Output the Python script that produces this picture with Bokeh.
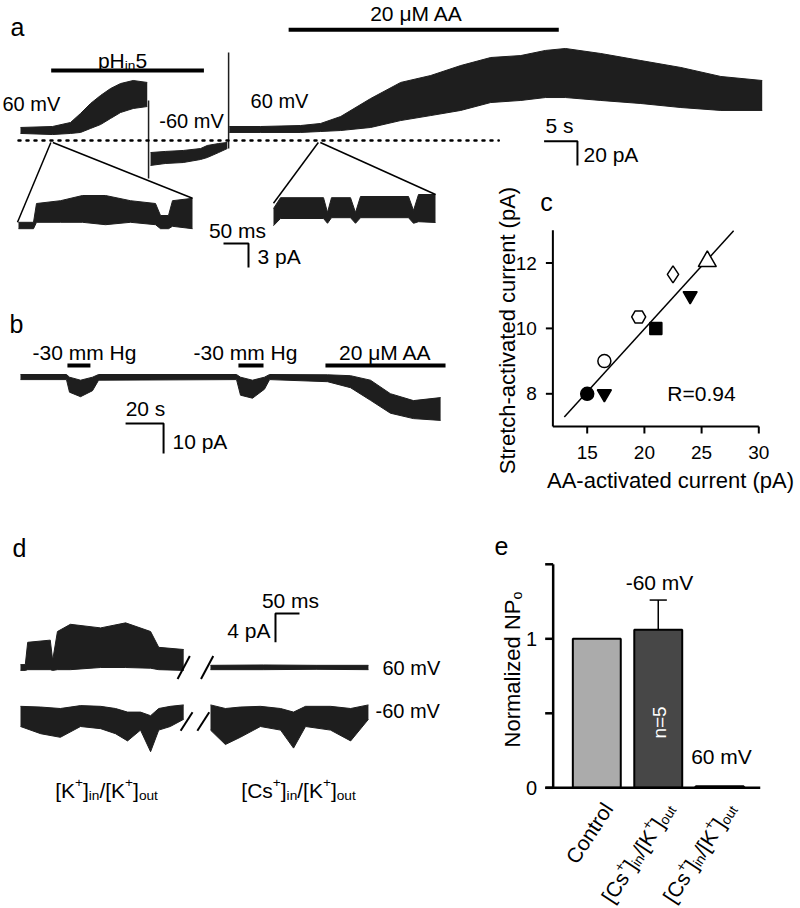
import numpy as np
from bokeh.plotting import figure
from bokeh.models import Range1d, ColumnDataSource
from bokeh.core.properties import value
from bokeh.embed import file_html
from bokeh.resources import INLINE

# ------------------------------------------------------------------ data
# Panel a: main recording, envelope of the noisy trace (time s, current pA)
a_ph_t = [0, 4.8, 7.5, 9.0, 10.5, 12.0, 13.5, 15.0, 16.9, 19.0]
a_ph_lo = [5.8, 4.9, 5.8, 6.6, 9.9, 13.1, 18.1, 23.0, 26.3, 27.9]
a_ph_hi = [10.7, 11.5, 14.8, 22.2, 30.4, 37.0, 42.7, 46.8, 49.3, 47.7]
a_neg_t = [19.5, 21.7, 24.4, 27.0, 28.0, 29.7, 31.0]
a_neg_lo = [-20.5, -18.9, -18.1, -15.6, -14.0, -9.9, -6.6]
a_neg_hi = [-9.9, -9.0, -8.2, -6.6, -4.1, -2.5, -1.6]
a_aa_t = [31.3, 36.0, 42.0, 45.0, 48.0, 52.5, 57.0, 61.5, 66.0, 70.5, 75.0,
          78.7, 81.7, 87.0, 93.0, 99.0, 105.0, 111.2]
a_aa_lo = [6.6, 6.6, 6.6, 7.4, 8.2, 10.7, 16.4, 20.5, 24.7, 31.2, 32.9, 35.3,
           35.3, 32.9, 30.4, 27.1, 24.7, 24.7]
a_aa_hi = [11.5, 11.5, 12.3, 14.0, 19.7, 34.5, 47.7, 53.4, 61.6, 68.2, 69.8,
           74.0, 75.6, 71.5, 65.7, 60.0, 52.6, 49.3]
a_step_t = [19.2, 31.2]
a_step_lo = [-31.2, -6.6]
a_step_hi = [32.9, 72.3]
a_stim_start = [4.6, 40.2]
a_stim_end = [27.5, 80.7]
a_zoom_t = [4.7, 44.8]          # where the two expanded insets come from

# Panel a insets (time ms, current pA)
ins1_t = [0, 30, 36, 84, 128, 174, 224, 274, 284, 300, 308, 348]
ins1_lo = [-0.4, -0.4, 0.4, 0.4, 0.4, 0.1, 0.4, 0.1, -0.4, -0.4, -0.1, -0.4]
ins1_hi = [0.4, 0.4, 2.75, 3.1, 3.75, 3.75, 3.1, 2.75, 1.25, 1.25, 3.1, 3.4]
ins2_t = [0, 14, 100, 108, 116, 154, 164, 174, 270, 280, 290, 324]
ins2_lo = [-0.4, 0.5, 0.5, -0.1, 0.6, 0.6, -0.1, 0.6, 0.6, -0.1, 0.1, 0.0]
ins2_hi = [1.75, 3.1, 3.1, 1.25, 3.1, 3.1, 1.25, 3.25, 3.25, 1.5, 3.5, 3.5]

# Panel b (time s, current pA)
b_t = [0, 24.2, 25.8, 31.6, 37.9, 41.1, 113.7, 115.8, 122.1, 128.4, 131.1,
       161.6, 173.7, 184.2, 194.7, 206.8, 221.1]
b_lo = [-0.8, -0.8, -5.0, -6.5, -4.5, -1.0, -0.8, -6.0, -7.0, -4.0, -0.8,
        -1.5, -3.5, -7.7, -12.0, -13.8, -14.4]
b_hi = [0.9, 0.9, 0.0, -1.0, 0.0, 0.9, 0.9, 0.0, -1.0, 0.0, 0.9,
        0.8, 0.5, -1.0, -5.5, -7.8, -6.8]
b_stim_start = [24.7, 114.7, 160.5]
b_stim_end = [36.8, 127.9, 223.7]
b_stim_text = ["-30 mm Hg", "-30 mm Hg", "20 μM AA"]
b_stim_text_t = [33.7, 118.4, 192.0]

# Panel c
c_aa = [15.0, 16.5, 16.5, 19.5, 21.0, 22.5, 24.0, 25.5]
c_stretch = [8.0, 8.0, 9.0, 10.35, 10.0, 11.65, 11.0, 12.05]
c_marker = ["circle", "inverted_triangle", "circle", "hex", "square",
            "diamond", "inverted_triangle", "triangle"]
c_filled = [True, True, False, False, True, False, True, False]
c_xticks = [15, 20, 25, 30]
c_yticks = [8, 10, 12]
c_xlim = [12, 30]
c_ylim = [7, 13]
c_fit_x = [13.0, 27.8]
c_r_text = "R=0.94"

# Panel d (time ms, current pA)
d_tk_t = [0, 10, 15, 62, 67, 77, 104, 167, 219, 271, 288, 340]
d_tk_lo = [-0.4, -0.4, -0.3, -0.3, -0.4, -0.3, -0.3, 0.0, 0.0, -0.1, -0.3, -0.4]
d_tk_hi = [0.4, 0.4, 3.5, 3.8, 1.0, 5.0, 6.0, 5.5, 6.2, 5.0, 2.8, 2.5]
d_tc_t = [0, 110, 220, 329]
d_tc_lo = [-0.3, -0.3, -0.25, -0.3]
d_tc_hi = [0.3, 0.35, 0.3, 0.3]
d_bk_t = [0, 42, 83, 125, 167, 198, 223, 250, 271, 288, 312, 340]
d_bk_lo = [-2.5, -3.5, -4.0, -2.5, -2.8, -3.5, -4.5, -3.0, -6.0, -3.0, -2.5, -1.5]
d_bk_hi = [0.3, 0.2, 0.0, 0.4, 0.3, 0.0, -0.5, -0.5, -1.0, 0.0, 0.3, 0.5]
d_bc_t = [0, 31, 62, 104, 146, 173, 198, 250, 292, 329]
d_bc_lo = [-3.0, -5.0, -4.0, -2.5, -3.0, -5.5, -2.5, -3.0, -4.5, -1.5]
d_bc_hi = [0.5, 0.0, 0.2, 0.3, 0.0, -0.5, 0.3, 0.3, 0.0, 0.5]

# Panel e
CS_LABEL = [("[Cs", "n"), ("+", "sup"), ("]", "n"), ("in", "sub"), ("/[K", "n"),
            ("+", "sup"), ("]", "n"), ("out", "sub")]
K_LABEL = [("[K", "n"), ("+", "sup"), ("]", "n"), ("in", "sub"), ("/[K", "n"),
           ("+", "sup"), ("]", "n"), ("out", "sub")]
e_categories = [[("Control", "n")], CS_LABEL, CS_LABEL]
e_values = [1.0, 1.06, 0.01]
e_sem = [0.0, 0.2, 0.0]
e_colors = ["#ababab", "#474747", "#111111"]
e_yticks = [0, 0.5, 1, 1.5]
e_ytick_labels = ["0", "", "1", ""]

# ------------------------------------------------------------------ layout
FONT = "Liberation Sans"
TRACE = "#1e1e1e"
W, H = 800, 908
# frame name -> (data x0, page X0, px per x unit, data y0, page Y0, px per y unit)
FRAMES = {
    "a": (0, 20, 6.67, 0, 140, 1.217),
    "i1": (0, 18, 0.5, 0, 225, 8.0),
    "i2": (0, 273, 0.5, 0, 222, 8.0),
    "b": (0, 20, 1.9, 0, 376.7, 3.0),
    "dtl": (0, 20, 0.48, 0, 667, 7.2),
    "dtr": (0, 210, 0.48, 0, 667, 7.2),
    "dbl": (0, 20, 0.48, 0, 708, 7.2),
    "dbr": (0, 210, 0.48, 0, 708, 7.2),
    "c": (15, 586.7, 11.44, 8, 393.3, 32.7),
    "e": (0, 596.3, 61.45, 0, 787.3, 149.0),
}

p = figure(width=W, height=H, x_range=Range1d(0, W), y_range=Range1d(0, H),
           x_axis_type=None, y_axis_type=None, toolbar_location=None,
           output_backend="svg", min_border=0)
p.outline_line_color = None
p.background_fill_color = "white"
p.border_fill_color = "white"

xr, yr = {}, {}
for name, (dx0, X0, kx, dy0, Y0, ky) in FRAMES.items():
    xs = dx0 - X0 / kx
    ys = dy0 - (H - Y0) / ky
    xr[name] = Range1d(xs, xs + W / kx)
    yr[name] = Range1d(ys, ys + H / ky)
p.extra_x_ranges = xr
p.extra_y_ranges = yr


def kw(name):
    return dict(x_range_name=name, y_range_name=name)


def to_px(name, x, y):
    dx0, X0, kx, dy0, Y0, ky = FRAMES[name]
    return X0 + (x - dx0) * kx, Y0 - (y - dy0) * ky


def px_x(name, n):
    return n / FRAMES[name][2]


def px_y(name, n):
    return n / FRAMES[name][5]


def label(X, Y, txt, size=21, align="center", baseline="middle", angle=0.0,
          color="black"):
    p.text(x=[X], y=[H - Y], text=[txt], text_font=value(FONT),
           text_font_size=value(f"{size}px"), text_align=align,
           text_baseline=baseline, angle=angle, text_color=color)


def ftext(name, x, y, txt, size=21, align="center", baseline="middle",
          angle=0.0, color="black"):
    p.text(x=x, y=y, text=txt, text_font=value(FONT),
           text_font_size=value(f"{size}px"), text_align=align,
           text_baseline=baseline, angle=angle, text_color=color, **kw(name))


AW = {' ': 278, '[': 278, ']': 278, '/': 278, '+': 584, 'C': 722, 'K': 667,
      's': 500, 'i': 222, 'n': 556, 'o': 556, 'u': 556, 't': 278, 'p': 556,
      'H': 722, '5': 556, 'N': 722, 'P': 667, 'a': 556, 'l': 222, 'z': 500,
      'e': 556, 'd': 556, 'm': 833, 'r': 333, 'c': 500}


def tw(s, size):
    return sum(AW.get(ch, 556) for ch in s) / 1000.0 * size


def rich(X, Y, parts, size=21, align="center", angle=0.0, color="black"):
    """Text with sub/superscripts; (X, Y) is the baseline anchor in page px."""
    small = size * 0.65
    ws = [tw(t, size if k == "n" else small) for t, k in parts]
    total = sum(ws)
    pos = {"center": -total / 2, "left": 0.0, "right": -total}[align]
    ca, sa = np.cos(angle), np.sin(angle)
    bx, by = X, H - Y
    for (t, k), w in zip(parts, ws):
        off = {"n": 0.0, "sub": -0.22 * size, "sup": 0.36 * size}[k]
        fs = size if k == "n" else small
        p.text(x=[bx + pos * ca - off * sa], y=[by + pos * sa + off * ca],
               text=[t], text_font=value(FONT),
               text_font_size=value(f"{fs:.1f}px"), text_align="left",
               text_baseline="alphabetic", angle=angle, text_color=color)
        pos += w


def band(name, t, lo, hi):
    p.varea(x=t, y1=lo, y2=hi, fill_color=TRACE, **kw(name))
    p.line(t, lo, line_color=TRACE, line_width=1, **kw(name))
    p.line(t, hi, line_color=TRACE, line_width=1, **kw(name))


def scalebar(name, cx, cy, dx, dy, w=2):
    p.line([cx + dx, cx, cx], [cy, cy, cy + dy], line_color="black",
           line_width=w, **kw(name))


# ------------------------------------------------------------------ panel a
band("a", a_ph_t, a_ph_lo, a_ph_hi)
band("a", a_neg_t, a_neg_lo, a_neg_hi)
band("a", a_aa_t, a_aa_lo, a_aa_hi)
p.segment(x0=a_step_t, y0=a_step_lo, x1=a_step_t, y1=a_step_hi,
          line_color=TRACE, line_width=1.5, **kw("a"))
p.line([-0.3, 71.7], [0, 0], line_color="black", line_width=2.5,
       line_dash="2 6", line_cap="round", **kw("a"))
stim_a_level = [57.5, 91.0]
p.segment(x0=a_stim_start, y0=stim_a_level, x1=a_stim_end, y1=stim_a_level,
          line_color="black", line_width=4, **kw("a"))
rich(122, 60, [("pH", "n"), ("in", "sub"), ("5", "n")], size=21)
label(416, 13, "20 μM AA")
scalebar("a", 83.5, -0.6, -5, -20)
label(559, 125, "5 s")
label(583, 154, "20 pA", align="left")

band("i1", ins1_t, ins1_lo, ins1_hi)
band("i2", ins2_t, ins2_lo, ins2_hi)
scalebar("i1", 460, -2.25, -50, -3)
label(237, 230, "50 ms")
label(257, 256, "3 pA", align="left")

# connectors from the main trace to the expanded insets
for zt, ins, t0, y0, t1, y1 in [(a_zoom_t[0], "i1", -2, 0.4, ins1_t[-1], ins1_hi[-1]),
                                (a_zoom_t[1], "i2", ins2_t[0], 2.4, ins2_t[-1], ins2_hi[-1])]:
    sx, sy = to_px("a", zt, -1.6)
    e0x, e0y = to_px(ins, t0, y0)
    e1x, e1y = to_px(ins, t1, y1)
    p.segment(x0=[sx - 1, sx + 1], y0=[H - sy, H - sy],
              x1=[e0x, e1x], y1=[H - e0y, H - e1y],
              line_color="black", line_width=1.5)

label(17, 26, "a", size=25)
label(2, 103, "60 mV", size=20, align="left")
label(191, 120, "-60 mV", size=20)
label(279, 100, "60 mV", size=20)

# ------------------------------------------------------------------ panel b
band("b", b_t, b_lo, b_hi)
stim_b_level = 3.9
p.segment(x0=b_stim_start, y0=[stim_b_level] * 3, x1=b_stim_end,
          y1=[stim_b_level] * 3, line_color="black", line_width=4, **kw("b"))
ftext("b", b_stim_text_t, [stim_b_level + px_y("b", 13)] * 3, b_stim_text)
scalebar("b", 75.3, -15.4, -20, -10)
label(145, 408, "20 s")
label(172, 441, "10 pA", align="left")
label(16, 323, "b", size=25)

# ------------------------------------------------------------------ panel c
ax_c = dict(line_color="black", line_width=2, **kw("c"))
p.line([c_xlim[0], c_xlim[1]], [c_ylim[0], c_ylim[0]], **ax_c)
p.line([c_xlim[0], c_xlim[0]], [c_ylim[0], c_ylim[1]], **ax_c)
p.segment(x0=c_xticks, y0=[c_ylim[0]] * 4, x1=c_xticks,
          y1=[c_ylim[0] - px_y("c", 7)] * 4, **ax_c)
p.segment(x0=[c_xlim[0]] * 3, y0=c_yticks, x1=[c_xlim[0] - px_x("c", 7)] * 3,
          y1=c_yticks, **ax_c)
ftext("c", c_xticks, [c_ylim[0] - px_y("c", 19)] * 4, [str(v) for v in c_xticks],
      size=19, baseline="top")
ftext("c", [c_xlim[0] - px_x("c", 16)] * 3, c_yticks, [str(v) for v in c_yticks],
      size=19, align="right")
slope, icept = np.polyfit(c_aa, c_stretch, 1)
p.line(c_fit_x, [slope * x + icept for x in c_fit_x], line_color="black",
       line_width=1.5, **kw("c"))
msize = {"circle": 13, "inverted_triangle": 14, "hex": 14, "square": 12,
         "diamond": 17, "triangle": 18}
src = ColumnDataSource(dict(
    x=c_aa, y=c_stretch, marker=c_marker,
    size=[msize[m] for m in c_marker],
    fill=["black" if f else "white" for f in c_filled]))
p.scatter(x="x", y="y", marker="marker", size="size", fill_color="fill",
          line_color="black", line_width=1.5, source=src, **kw("c"))
label(701, 393, c_r_text, size=21)
label(670, 480, "AA-activated current (pA)", size=22)
label(507, 330, "Stretch-activated current (pA)", size=22, angle=np.pi / 2)
label(546, 201, "c", size=25)

# ------------------------------------------------------------------ panel d
band("dtl", d_tk_t, d_tk_lo, d_tk_hi)
band("dtr", d_tc_t, d_tc_lo, d_tc_hi)
band("dbl", d_bk_t, d_bk_lo, d_bk_hi)
band("dbr", d_bc_t, d_bc_lo, d_bc_hi)
slash = dict(marker="dash", line_color="black", line_width=2)
p.scatter([d_tk_t[-1]], [0], size=26, angle=1.08, **slash, **kw("dtl"))
p.scatter([-7], [0], size=26, angle=1.08, **slash, **kw("dtr"))
p.scatter([d_bk_t[-1] + 6], [-1.8], size=22, angle=1.0, **slash, **kw("dbl"))
p.scatter([-15], [-1.8], size=22, angle=1.0, **slash, **kw("dbr"))
p.line([185.4, 135.4, 135.4], [7.5, 7.5, 3.5], line_color="black", line_width=2,
       **kw("dtr"))
label(290, 600, "50 ms")
label(270, 630, "4 pA", align="right")
label(382, 667, "60 mV", size=20, align="left")
label(375, 710, "-60 mV", size=20, align="left")
rich(106, 790, K_LABEL, size=21)
rich(298, 790, CS_LABEL, size=21)
label(19, 547, "d", size=25)

# ------------------------------------------------------------------ panel e
xi = list(range(len(e_categories)))
p.vbar(x=xi, top=e_values, bottom=0, width=0.78, fill_color=e_colors,
       line_color="black", line_width=2, **kw("e"))
for i, (v, s) in enumerate(zip(e_values, e_sem)):
    if s > 0:
        p.segment(x0=[i, i - 0.14], y0=[v, v + s], x1=[i, i + 0.14],
                  y1=[v + s, v + s], line_color="black", line_width=1.5, **kw("e"))
ax_e = dict(line_color="black", line_width=2.5, **kw("e"))
e_axis_x = -0.71
p.line([e_axis_x, e_axis_x], [0, max(e_yticks)], **ax_e)
p.line([-0.836, 2.66], [0, 0], **ax_e)
p.segment(x0=[e_axis_x] * 4, y0=e_yticks, x1=[e_axis_x - px_x("e", 8)] * 4,
          y1=e_yticks, **ax_e)
ftext("e", [e_axis_x - px_x("e", 16)] * 4, e_yticks, e_ytick_labels,
      size=20, align="right")
for i, parts in zip(xi, e_categories):
    ax_, ay_ = to_px("e", i, 0)
    rich(ax_ + 11, ay_ + 17, parts, size=21, align="right", angle=0.99)
label(659, 582, "-60 mV", size=21)
label(721, 756, "60 mV", size=21)
label(658.5, 722, "n=5", size=19, angle=np.pi / 2, color="white")
rich(512, 669, [("Normalized NP", "n"), ("o", "sub")], size=22, angle=np.pi / 2)
label(501, 545, "e", size=25)

open("out.html", "w").write(file_html(p, INLINE))
